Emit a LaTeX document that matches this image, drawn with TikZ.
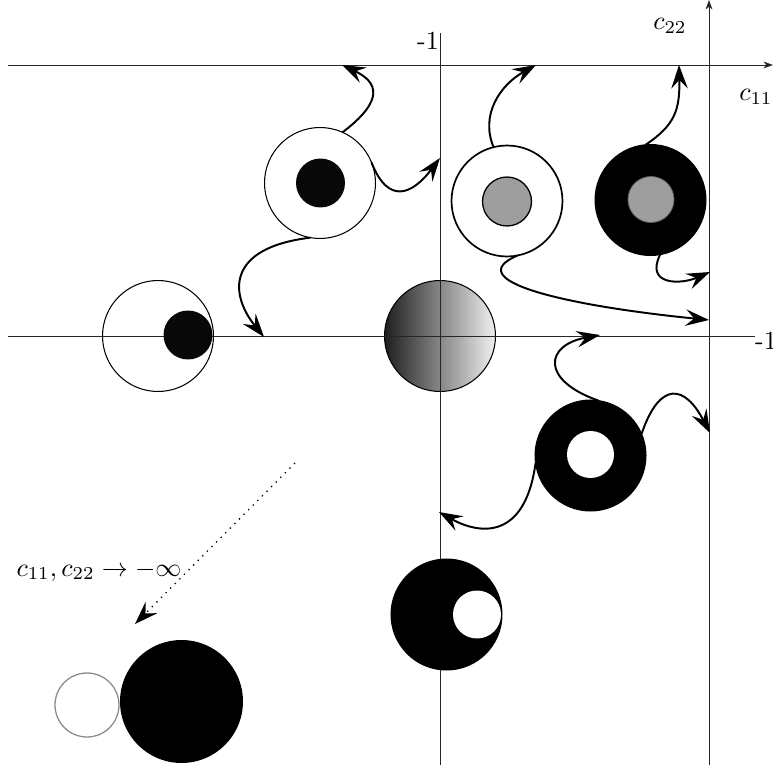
\documentclass[tikz,border=0pt]{standalone}
\usetikzlibrary{arrows.meta}
\begin{document}
\begin{tikzpicture}[x=0.0135cm,y=-0.0135cm,
  axis/.style={line width=0.35pt,draw=black!85},
  axtip/.style={-{Stealth[length=3.6pt,width=2.6pt,inset=1pt]}},
  flow/.style={line width=0.75pt,-{Stealth[length=9pt,width=6.3pt,inset=3.3pt]}},
  disk/.style={circle,inner sep=0pt,outer sep=0pt,minimum size=#1},
  outerc/.style={disk=1.4985cm,draw=black,line width=0.4pt},
  lbl/.style={inner sep=1pt,font=\normalsize}]
\useasboundingbox (0,0) rectangle (773,770);
% gradient disk (behind the axes)
\node[outerc,left color=black!88,right color=black!6,shading=axis] (mid) at (440,336) {};
% axes
\coordinate (topL) at (8,65);   \coordinate (topR) at (773,65);
\coordinate (midL) at (8,336);  \coordinate (midR) at (755,336);
\coordinate (vcT) at (440,33);  \coordinate (vcB) at (440,765);
\coordinate (vrT) at (709,0);   \coordinate (vrB) at (709,765);
\draw[axis,axtip] (topL) -- (topR);
\draw[axis] (midL) -- (midR);
\draw[axis] (vcT) -- (vcB);
\draw[axis,axtip] (vrB) -- (vrT);
\node[lbl] (m1t) at (428,41) {-1};
\node[lbl,anchor=west] (m1r) at (752,341) {-1};
\node[lbl] (c22) at (670,26) {$c_{22}$};
\node[lbl] (c11) at (756,97) {$c_{11}$};
% circles
\node[outerc] (ul) at (320,183) {};
\node[disk=0.6615cm,fill=black!97] (ulin) at (320.5,183) {};
\node[outerc] (lf) at (158,336) {};
\node[disk=0.6615cm,fill=black!97] (lfin) at (188,335) {};
\node[outerc,line width=0.65pt] (ur) at (507,201) {};
\node[disk=0.6615cm,fill=black!38,draw=black,line width=0.5pt] (urin) at (507,201.5) {};
\node[outerc,fill=black] (rr) at (650.5,200) {};
\node[disk=0.621cm,fill=black!38,draw=black!60,line width=0.3pt] (rrin) at (651,199.5) {};
\node[outerc,fill=black] (lr) at (590.5,455.5) {};
\node[disk=0.6345cm,fill=white] (lrin) at (590.5,454.5) {};
\node[outerc,fill=black] (bc) at (446.5,614.5) {};
\node[disk=0.648cm,fill=white] (bcin) at (477,614.5) {};
\node[disk=0.864cm,draw=black!45,line width=0.5pt] (bl1) at (87,705) {};
\node[disk=1.6605cm,fill=black] (bl2) at (181.5,701.5) {};
% arrow end points on the axes
\coordinate (ta) at (342,65);
\coordinate (tb) at (440,158);
\coordinate (tc) at (264,337);
\coordinate (td) at (536,65);
\coordinate (te) at (709,320);
\coordinate (tf) at (679,65);
\coordinate (tg) at (710,272);
\coordinate (th) at (600,335);
\coordinate (ti) at (710,433);
\coordinate (tj) at (439,512);
% curved arrows
\draw[flow] (ul.66) .. controls (385,100) and (378,82) .. (ta);
\draw[flow] (ul.22) .. controls (388,205) and (412,195) .. (tb);
\draw[flow] (ul.-100) .. controls (225,248) and (230,295) .. (tc);
\draw[flow] (ur.104) .. controls (480,115) and (500,85) .. (td);
\draw[flow] (ur.-79) .. controls (460,280) and (560,305) .. (te);
\draw[flow] (rr.95) .. controls (675,125) and (680,110) .. (tf);
\draw[flow] (rr.-80) .. controls (645,285) and (680,285) .. (tg);
\draw[flow] (lr.82) .. controls (540,380) and (545,345) .. (th);
\draw[flow] (lr.23) .. controls (660,380) and (685,385) .. (ti);
\draw[flow] (lr.188) .. controls (525,540) and (480,535) .. (tj);
% limit arrow
\coordinate (ds) at (295,463);
\coordinate (de) at (135,624);
\draw[line width=0.5pt,dotted,-{Stealth[length=9pt,width=6.3pt,inset=3.3pt]}] (ds) -- (de);
\node[lbl] (lim) at (99,571) {$c_{11}, c_{22} \to -\infty$};
\end{tikzpicture}
\end{document}
